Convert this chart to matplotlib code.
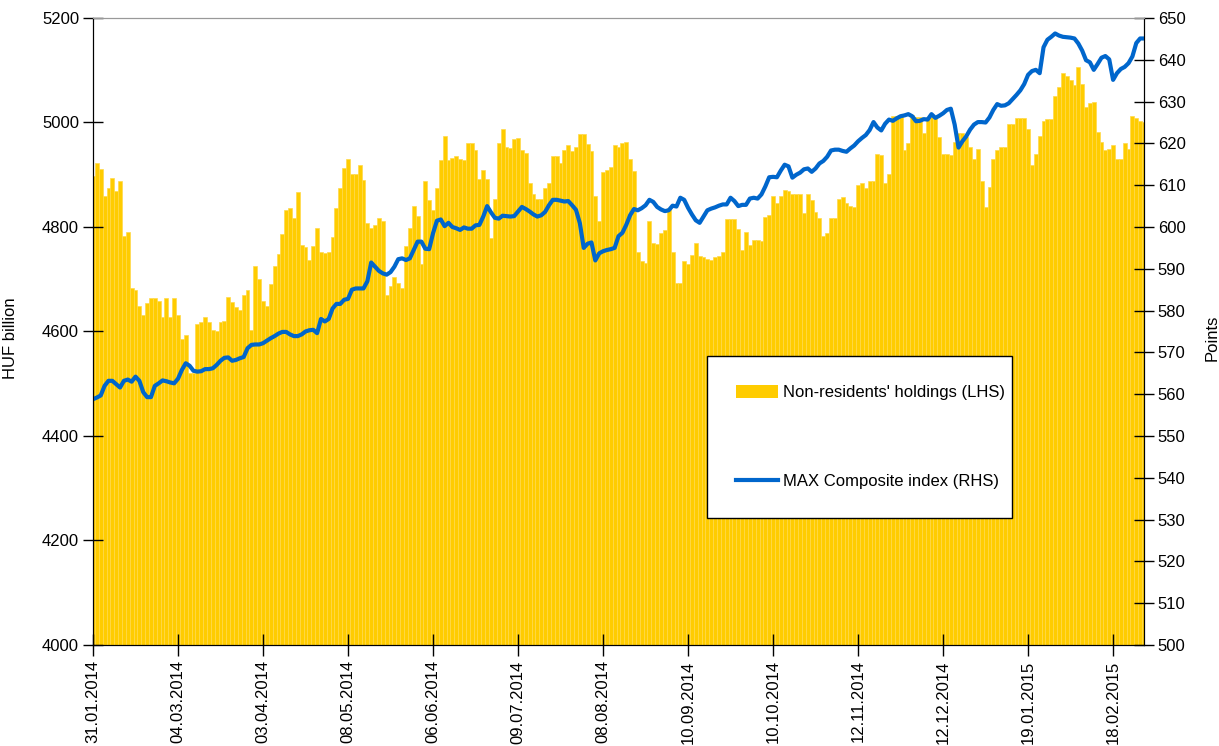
import matplotlib.pyplot as plt
from matplotlib.patches import Patch
from matplotlib.lines import Line2D

plt.rcParams['font.family'] = ['Liberation Sans', 'DejaVu Sans']
plt.rcParams['font.size'] = 12

# tick labels, one every 22 trading days
dates = ['31.01.2014', '04.03.2014', '03.04.2014', '08.05.2014', '06.06.2014',
         '09.07.2014', '08.08.2014', '10.09.2014', '10.10.2014', '12.11.2014',
         '12.12.2014', '19.01.2015', '18.02.2015']
tick_pos = list(range(0, 265, 22))

# non-residents' holdings, HUF billion (LHS)
holdings = [
    4898, 4922, 4911, 4860, 4874, 4894, 4868, 4888, 4783, 4790,
    4683, 4679, 4649, 4632, 4655, 4665, 4665, 4658, 4628, 4665,
    4628, 4665, 4632, 4586, 4593, 4520, 4520, 4614, 4618, 4628,
    4618, 4603, 4600, 4618, 4621, 4666, 4656, 4646, 4642, 4669,
    4679, 4603, 4725, 4700, 4659, 4649, 4691, 4725, 4749, 4787,
    4833, 4836, 4818, 4867, 4766, 4762, 4736, 4764, 4798, 4752,
    4750, 4752, 4781, 4836, 4874, 4912, 4931, 4901, 4901, 4918,
    4889, 4808, 4798, 4804, 4818, 4812, 4670, 4688, 4705, 4692,
    4684, 4764, 4799, 4840, 4822, 4730, 4888, 4852, 4833, 4874,
    4928, 4975, 4928, 4933, 4936, 4930, 4928, 4961, 4961, 4947,
    4891, 4909, 4891, 4778, 4853, 4960, 4987, 4954, 4952, 4968,
    4970, 4947, 4941, 4885, 4863, 4854, 4854, 4874, 4885, 4936,
    4936, 4922, 4947, 4957, 4945, 4954, 4978, 4978, 4959, 4945,
    4859, 4811, 4906, 4909, 4915, 4957, 4954, 4961, 4963, 4930,
    4908, 4753, 4735, 4732, 4812, 4770, 4767, 4788, 4794, 4836,
    4753, 4693, 4693, 4735, 4729, 4746, 4770, 4745, 4743, 4739,
    4737, 4742, 4745, 4753, 4815, 4815, 4815, 4797, 4756, 4790,
    4766, 4776, 4776, 4773, 4820, 4823, 4859, 4845, 4859, 4871,
    4868, 4863, 4863, 4863, 4826, 4863, 4852, 4829, 4817, 4783,
    4788, 4818, 4817, 4854, 4857, 4845, 4840, 4838, 4881, 4885,
    4874, 4888, 4888, 4940, 4937, 4885, 4901, 5012, 5013, 5012,
    4947, 4961, 5014, 5010, 5010, 4979, 5010, 5010, 5010, 4973,
    4940, 4940, 4937, 4963, 4980, 4980, 4973, 4954, 4930, 4950,
    4888, 4839, 4877, 4930, 4947, 4954, 4954, 4998, 4998, 5009,
    5009, 5009, 4988, 4919, 4940, 4974, 5002, 5006, 5006, 5051,
    5067, 5095, 5089, 5081, 5072, 5106, 5074, 5030, 5037, 5040,
    4981, 4963, 4947, 4950, 4956, 4930, 4930, 4960, 4950, 5012,
    5008, 5002, 5000,
]

# MAX Composite index, points (RHS)
max_index = [
    558.8, 559.2, 559.7, 562.0, 563.2, 563.2, 562.4, 561.6, 563.2, 563.5,
    563.0, 564.2, 563.2, 560.5, 559.3, 559.3, 562.0, 562.6, 563.3, 563.1,
    562.8, 562.6, 563.7, 565.8, 567.4, 566.8, 565.6, 565.4, 565.5, 566.0,
    566.0, 566.2, 567.0, 568.0, 568.7, 568.8, 568.0, 568.2, 568.6, 568.9,
    571.0, 571.8, 571.9, 571.9, 572.2, 572.8, 573.4, 573.9, 574.5, 574.9,
    574.9, 574.3, 573.9, 573.9, 574.3, 575.0, 575.3, 575.4, 574.6, 578.0,
    577.4, 578.0, 580.5, 581.6, 581.6, 582.6, 582.8, 585.0, 585.3, 585.3,
    585.3, 587.0, 591.5, 590.5, 589.5, 588.9, 588.6, 589.2, 590.5, 592.3,
    592.5, 592.1, 592.5, 594.5, 596.5, 596.5, 594.8, 594.7, 598.5, 601.5,
    601.8, 600.2, 601.0, 600.0, 599.7, 599.3, 599.9, 599.6, 599.6, 600.4,
    600.5, 602.5, 605.0, 603.5, 602.2, 602.0, 602.7, 602.6, 602.5, 602.6,
    603.7, 604.8, 604.3, 603.7, 603.0, 602.5, 602.8, 603.6, 605.2, 606.5,
    606.5, 606.3, 606.1, 606.2, 605.2, 604.1, 600.9, 595.0, 596.0, 596.3,
    592.0, 593.7, 594.2, 594.5, 594.7, 595.0, 597.8, 598.6, 600.5, 602.8,
    604.3, 604.0, 604.5, 605.2, 606.5, 606.0, 604.8, 604.2, 603.8, 604.0,
    605.1, 604.9, 607.0, 606.5, 604.6, 603.0, 601.6, 601.0, 602.5, 604.0,
    604.4, 604.7, 605.1, 605.4, 605.4, 607.0, 606.2, 605.0, 605.3, 605.3,
    606.8, 607.0, 606.8, 607.8, 609.7, 611.9, 612.0, 611.9, 613.5, 614.9,
    614.5, 611.8, 612.5, 613.0, 613.8, 614.0, 613.2, 614.0, 615.2, 615.8,
    616.8, 618.3, 618.5, 618.5, 618.2, 618.0, 618.8, 619.5, 620.5, 621.3,
    622.0, 623.2, 625.1, 623.8, 623.1, 624.7, 625.7, 625.4, 626.0, 626.5,
    626.7, 627.0, 626.5, 625.3, 625.4, 625.8, 625.7, 627.0, 626.1, 626.6,
    627.2, 628.0, 628.3, 624.5, 619.0, 620.5, 621.7, 623.3, 624.5, 625.1,
    625.1, 625.0, 626.2, 628.0, 629.4, 629.0, 629.1, 629.6, 630.6, 631.6,
    632.7, 634.2, 636.4, 637.3, 637.6, 636.8, 643.0, 644.8, 645.5, 646.3,
    645.8, 645.5, 645.4, 645.3, 645.1, 643.9, 642.2, 639.9, 639.4, 637.6,
    639.0, 640.5, 640.9, 640.1, 635.2, 636.8, 637.8, 638.3, 639.2, 640.8,
    644.0, 645.1, 645.1,
]

yellow = '#FFCC00'
blue = '#0066CC'

fig = plt.figure(figsize=(12.19, 7.46), dpi=100)
ax = fig.add_axes([93 / 1219, 1 - 645 / 746, (1144 - 93) / 1219, (645 - 18) / 746])

x = list(range(len(holdings)))
ax.bar(x, holdings, width=1.0, color=yellow, edgecolor='#FFD94A', linewidth=0.5)
ax.set_xlim(0, len(holdings) - 1)
ax.set_ylim(4000, 5200)
ax.set_yticks(range(4000, 5201, 200))
ax.set_xticks(tick_pos, labels=dates, rotation=90)
ax.tick_params(axis='y', direction='inout', length=14, width=1, pad=3)
ax.tick_params(axis='x', direction='inout', length=16, width=1, pad=3)
ax.set_ylabel('HUF billion')
ax.yaxis.set_label_coords((18 - 93) / 1051, 0.49)

ax2 = ax.twinx()
ax2.plot(x, max_index, color=blue, lw=3.0, solid_joinstyle='round')
ax2.set_ylim(500, 650)
ax2.set_yticks(range(500, 651, 10))
ax2.tick_params(axis='y', direction='inout', length=14, width=1, pad=3)
ax2.set_ylabel('Points')
ax2.yaxis.set_label_coords((1205 - 93) / 1051, 0.49)

for a in (ax, ax2):
    a.spines['top'].set_color('#999999')
    a.spines['left'].set_color('black')
    a.spines['right'].set_color('black')
    a.spines['bottom'].set_color('black')

handles = [Patch(facecolor=yellow, edgecolor='none', label="Non-residents' holdings (LHS)"),
           Line2D([], [], color=blue, lw=3.0, label='MAX Composite index (RHS)')]
leg = ax2.legend(handles=handles, loc='upper left',
                 bbox_to_anchor=(707 / 1219, 1 - 528 / 746, 305 / 1219, 172 / 746),
                 bbox_transform=fig.transFigure, mode='expand', borderaxespad=0,
                 frameon=True, fancybox=False, framealpha=1, edgecolor='black',
                 borderpad=1.75, labelspacing=4.4, handlelength=2.5,
                 handleheight=0.78, handletextpad=0.3)
leg.get_frame().set_linewidth(1.0)

fig.savefig('out.png', dpi=100)
